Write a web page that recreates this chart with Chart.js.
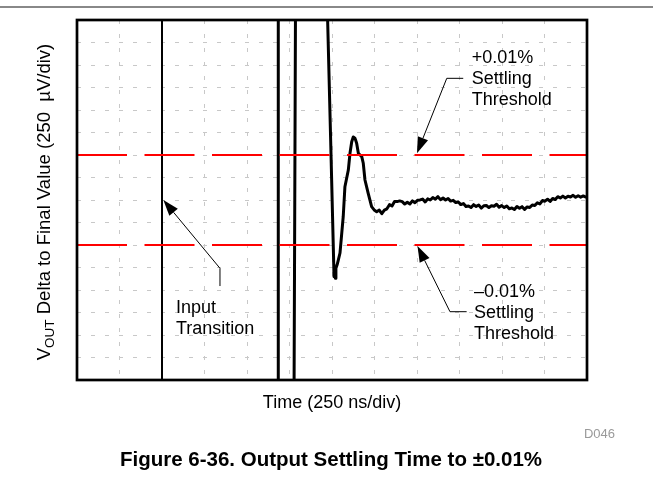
<!DOCTYPE html>
<html>
<head>
<meta charset="utf-8">
<script src="https://cdn.jsdelivr.net/npm/chart.js@4.4.1/dist/chart.umd.min.js"></script>
<style>
  html, body { margin: 0; padding: 0; background: #ffffff; }
  #wrap { position: relative; width: 653px; height: 481px; }
  canvas { display: block; }
</style>
</head>
<body>
<div id="wrap"><canvas id="c" width="653" height="481"></canvas></div>
<script>
// ---- Data (time in ns, voltage delta in µV) ----
const xLabel = "Time (250 ns/div)";
const yLabelMain = "V";
const yLabelSub = "OUT";
const yLabelRest = " Delta to Final Value (250  \u00B5V/div)";
const caption = "Figure 6-36. Output Settling Time to \u00B10.01%";
const figId = "D046";

const timeRange = [0, 3000];       // ns, 12 divisions of 250 ns
const voltRange = [-2000, 2000];   // µV, 16 divisions of 250 µV
const thresholdPlus = 500;         // +0.01 % settling threshold (µV)
const thresholdMinus = -500;       // -0.01 % settling threshold (µV)

const inputNs = [500, 500];
const inputUv = [-2500, 2500];

const traceNs = [1184, 1184, 1286, 1276, 1300, 1469, 1494, 1512, 1516, 1520, 1523, 1530, 1537, 1547, 1566, 1576, 1596, 1606, 1616, 1625, 1635, 1640, 1645, 1655, 1665, 1675, 1684, 1694, 1713, 1733, 1748,
  1763, 1778, 1793, 1808, 1823, 1838, 1853, 1868, 1883, 1898, 1913, 1928, 1943, 1958, 1973, 1988, 2003, 2018, 2033, 2048, 2063, 2078, 2093, 2108, 2123, 2138, 2153, 2168, 2183, 2198, 2213, 2228, 2243, 2258, 2273, 2288, 2303, 2318, 2333, 2348, 2363, 2378, 2393, 2408, 2423, 2438, 2453, 2468, 2483, 2498, 2513, 2528, 2543, 2558, 2573, 2588, 2603, 2618, 2633, 2648, 2663, 2678, 2693, 2708, 2723, 2738, 2753, 2768, 2783, 2798, 2813, 2828, 2843, 2858, 2873, 2888, 2903, 2918, 2933, 2948, 2963, 2978, 2993, 3000];
const traceUv = [-2500, 2500, 2500, -2500, null, 2400, 522, -852, -800, -870, -760, -720, -667, -589, -186, 148, 333, 522, 648, 700, 686, 660, 630, 519, 500, 481, 408, 222, 74, -74, -110,
  -130, -112, -152, -112, -98, -52, -67, -16, -18, -10, -18, -45, -26, -45, -9, -31, -3, 1, 10, -22, 13, 0, 27, 9, 37, 4, 23, 0, 17, -12, -4, -29, -22, -51, -39, -72, -66, -84, -52, -71, -56, -90, -64, -61, -84, -63, -69, -48, -80, -62, -84, -66, -98, -88, -106, -72, -92, -74, -104, -77, -84, -55, -62, -31, -44, -6, -13, 9, -16, 17, 5, 37, 22, 43, 23, 42, 34, 52, 30, 47, 32, 45, 33, 38];

// Annotations (anchor points in data units)
const upperArrow = { tip: [2000, 520], elbow: [2175, 1352], tail: [2272, 1352] };
const upperText = { at: [2322, 1522], lines: ["+0.01%", "Settling", "Threshold"] };
const lowerArrow = { tip: [2003, -511], elbow: [2194, -1241], tail: [2292, -1241] };
const lowerText = { at: [2335, -1080], lines: ["\u20130.01%", "Settling", "Threshold"] };
const inputArrow = { tip: [508, 0], elbow: [841, -759], tail: [841, -956] };
const inputText = { at: [582, -1259], lines: ["Input", "Transition"] };

const FONT = '"Liberation Sans", Arial, Helvetica, sans-serif';

function pts(xs, ys) { return xs.map((x, i) => ({ x: x, y: ys[i] })); }

const decorPlugin = {
  id: 'decor',
  beforeDraw(chart) {
    const ctx = chart.ctx;
    ctx.save();
    ctx.fillStyle = '#ffffff';
    ctx.fillRect(0, 0, chart.width, chart.height);
    ctx.strokeStyle = '#606060';
    ctx.lineWidth = 1.5;
    ctx.beginPath(); ctx.moveTo(0, 7); ctx.lineTo(chart.width, 7); ctx.stroke();
    ctx.restore();
  },
  afterDraw(chart) {
    const ctx = chart.ctx;
    const a = chart.chartArea;
    const xs = chart.scales.x, ys = chart.scales.y;
    const P = (p) => [xs.getPixelForValue(p[0]), ys.getPixelForValue(p[1])];
    ctx.save();
    ctx.strokeStyle = '#000';
    ctx.lineWidth = 2.7;
    ctx.strokeRect(a.left, a.top, a.right - a.left, a.bottom - a.top);

    function arrow(def) {
      const t = P(def.tip), e = P(def.elbow), l = P(def.tail);
      ctx.strokeStyle = '#000'; ctx.lineWidth = 1;
      ctx.beginPath(); ctx.moveTo(l[0], l[1]); ctx.lineTo(e[0], e[1]);
      const ang = Math.atan2(t[1] - e[1], t[0] - e[0]);
      const len = 16, hw = 5.5;
      const bx = t[0] - Math.cos(ang) * len, by = t[1] - Math.sin(ang) * len;
      ctx.lineTo(bx, by); ctx.stroke();
      ctx.fillStyle = '#000';
      ctx.beginPath();
      ctx.moveTo(t[0], t[1]);
      ctx.lineTo(bx + Math.sin(ang) * hw, by - Math.cos(ang) * hw);
      ctx.lineTo(bx - Math.sin(ang) * hw, by + Math.cos(ang) * hw);
      ctx.closePath(); ctx.fill();
    }
    arrow(upperArrow); arrow(lowerArrow); arrow(inputArrow);

    ctx.fillStyle = '#000';
    ctx.font = '18px ' + FONT;
    ctx.textAlign = 'left'; ctx.textBaseline = 'alphabetic';
    function label(def) {
      const p = P(def.at);
      def.lines.forEach((s, i) => ctx.fillText(s, p[0], p[1] + i * 21));
    }
    label(upperText); label(lowerText); label(inputText);

    ctx.textAlign = 'center';
    ctx.fillText(xLabel, (a.left + a.right) / 2, 408);

    ctx.save();
    ctx.translate(50, (a.top + a.bottom) / 2 + 2);
    ctx.rotate(-Math.PI / 2);
    ctx.textAlign = 'left';
    const fMain = '18.5px ' + FONT, fSub = '13.5px ' + FONT;
    ctx.font = fMain; const w1 = ctx.measureText(yLabelMain).width;
    ctx.font = fSub; const w2 = ctx.measureText(yLabelSub).width;
    ctx.font = fMain; const w3 = ctx.measureText(yLabelRest).width;
    let x0 = -(w1 + w2 + w3) / 2;
    ctx.font = fMain; ctx.fillText(yLabelMain, x0, 0);
    ctx.font = fSub; ctx.fillText(yLabelSub, x0 + w1, 4);
    ctx.font = fMain; ctx.fillText(yLabelRest, x0 + w1 + w2, 0);
    ctx.restore();

    ctx.font = '13px ' + FONT;
    ctx.fillStyle = '#9a9a9a';
    ctx.textAlign = 'right';
    ctx.fillText(figId, 615, 438);

    ctx.font = 'bold 20.5px ' + FONT;
    ctx.fillStyle = '#000';
    ctx.textAlign = 'center';
    ctx.fillText(caption, 331, 466);
    ctx.restore();
  }
};

const gridCommon = {
  color: '#c8c8c8',
  lineWidth: 1,
  drawTicks: false
};

new Chart(document.getElementById('c'), {
  type: 'line',
  data: {
    datasets: [
      {
        label: '+0.01%',
        data: pts(timeRange, [thresholdPlus, thresholdPlus]),
        borderColor: '#ff0000', borderWidth: 2.2, borderDash: [50, 17.5],
        pointRadius: 0, order: 0
      },
      {
        label: '-0.01%',
        data: pts(timeRange, [thresholdMinus, thresholdMinus]),
        borderColor: '#ff0000', borderWidth: 2.2, borderDash: [50, 17.5],
        pointRadius: 0, order: 0
      },
      {
        label: 'Input',
        data: pts(inputNs, inputUv),
        borderColor: '#000', borderWidth: 2,
        pointRadius: 0, order: 2
      },
      {
        label: 'Output',
        data: pts(traceNs, traceUv),
        borderColor: '#000', borderWidth: 3,
        pointRadius: 0, spanGaps: false, tension: 0, order: 1,
        borderJoinStyle: 'round'
      }
    ]
  },
  options: {
    responsive: false,
    animation: false,
    devicePixelRatio: 1,
    layout: { padding: { left: 77, top: 20, right: 66, bottom: 101 } },
    plugins: { legend: { display: false }, tooltip: { enabled: false }, title: { display: false } },
    scales: {
      x: {
        type: 'linear', min: timeRange[0], max: timeRange[1],
        ticks: { display: false, stepSize: 250 },
        grid: gridCommon,
        border: { display: false, dash: [4, 10] },
        title: { display: false }
      },
      y: {
        type: 'linear', min: voltRange[0], max: voltRange[1],
        ticks: { display: false, stepSize: 250 },
        grid: gridCommon,
        border: { display: false, dash: [4, 10] },
        title: { display: false }
      }
    }
  },
  plugins: [decorPlugin]
});
</script>
</body>
</html>
